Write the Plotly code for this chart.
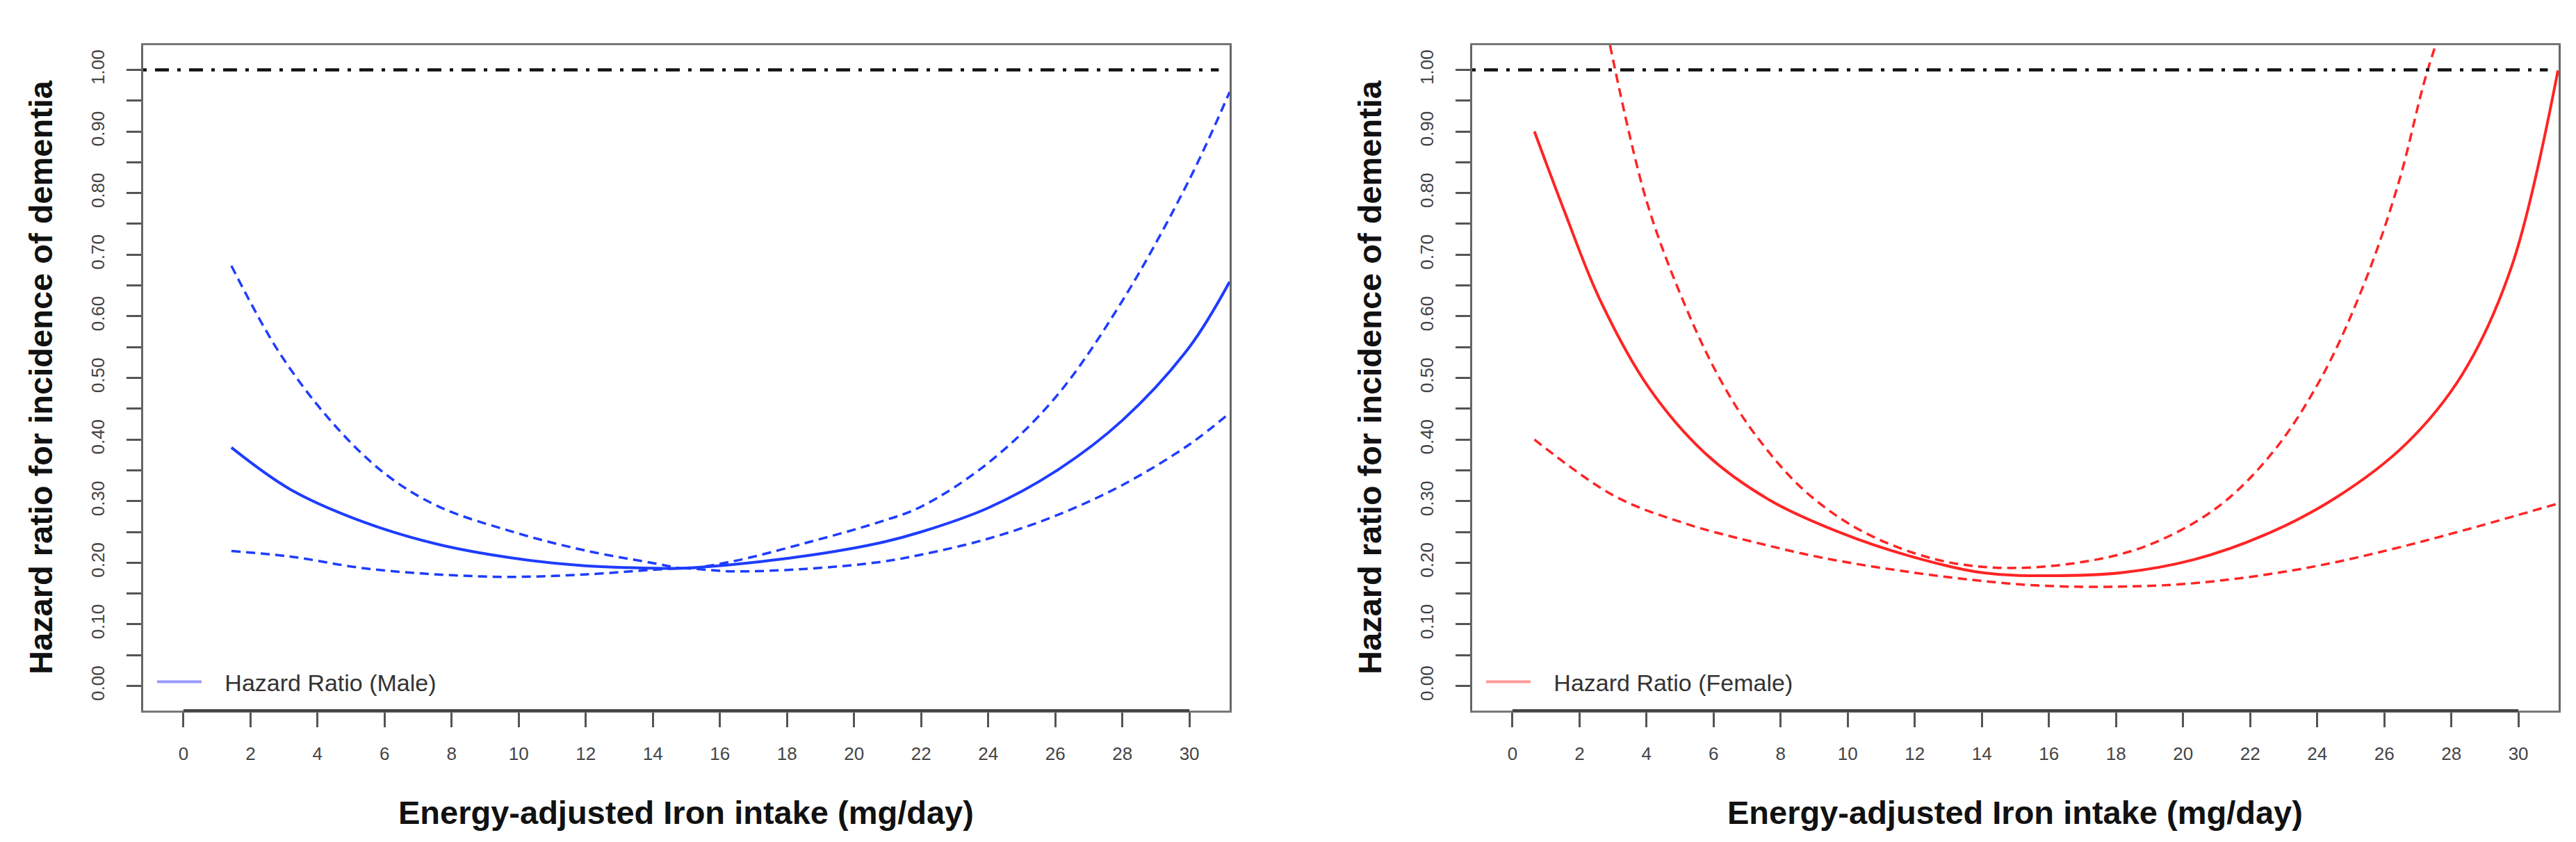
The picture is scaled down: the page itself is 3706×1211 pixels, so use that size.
import plotly.graph_objects as go

# Male panel
male_hr_x = [1.43, 3.19, 5.38, 7.58, 9.77, 11.97, 14.16, 14.9, 16.36, 18.55, 20.75, 22.0, 24.0, 26.0, 28.0, 30.0, 31.2]
male_hr_y = [0.387, 0.319, 0.266, 0.230, 0.208, 0.195, 0.191, 0.191, 0.197, 0.211, 0.232, 0.250, 0.289, 0.348, 0.431, 0.550, 0.656]
male_up_x = [1.43, 2.86, 4.43, 6.0, 7.58, 9.77, 11.97, 14.16, 14.9, 16.36, 18.55, 20.75, 22.0, 24.0, 26.0, 28.0, 30.0, 31.2]
male_up_y = [0.682, 0.541, 0.428, 0.345, 0.292, 0.251, 0.220, 0.198, 0.191, 0.202, 0.232, 0.266, 0.291, 0.362, 0.468, 0.625, 0.822, 0.964]
male_lo_x = [1.43, 3.19, 5.38, 7.58, 9.77, 11.97, 14.16, 14.9, 16.36, 18.55, 20.75, 22.0, 24.0, 26.0, 28.0, 30.0, 31.2]
male_lo_y = [0.219, 0.210, 0.191, 0.181, 0.177, 0.181, 0.189, 0.191, 0.186, 0.190, 0.201, 0.213, 0.239, 0.276, 0.326, 0.392, 0.443]

# Female panel
fem_hr_x = [0.655, 1.54, 2.60, 4.07, 5.76, 7.66, 9.77, 11.84, 13.99, 16.10, 18.19, 20.32, 22.43, 24.54, 26.65, 28.33, 29.80, 31.18]
fem_hr_y = [0.900, 0.772, 0.628, 0.484, 0.377, 0.302, 0.249, 0.211, 0.184, 0.179, 0.184, 0.205, 0.245, 0.305, 0.393, 0.506, 0.681, 0.999]
fem_up_x = [2.91, 4.0, 5.13, 6.18, 7.24, 8.71, 10.4, 12.51, 14.41, 16.73, 18.84, 20.95, 22.64, 24.11, 25.38, 26.43, 27.17, 27.53]
fem_up_y = [1.04, 0.787, 0.620, 0.499, 0.408, 0.317, 0.252, 0.207, 0.192, 0.199, 0.226, 0.287, 0.377, 0.499, 0.650, 0.817, 0.976, 1.04]
fem_lo_x = [0.655, 3.02, 5.13, 7.24, 9.34, 11.45, 13.56, 15.67, 17.78, 19.90, 22.0, 24.11, 26.23, 28.33, 31.18]
fem_lo_y = [0.400, 0.309, 0.264, 0.233, 0.207, 0.188, 0.173, 0.163, 0.161, 0.165, 0.177, 0.196, 0.222, 0.252, 0.296]

ref_hr = 1.0
x_ticks = [0, 2, 4, 6, 8, 10, 12, 14, 16, 18, 20, 22, 24, 26, 28, 30]
y_ticks = [0.00, 0.05, 0.10, 0.15, 0.20, 0.25, 0.30, 0.35, 0.40, 0.45, 0.50,
           0.55, 0.60, 0.65, 0.70, 0.75, 0.80, 0.85, 0.90, 0.95, 1.00]
y_tick_text = ['0.00', '', '0.10', '', '0.20', '', '0.30', '', '0.40', '', '0.50',
               '', '0.60', '', '0.70', '', '0.80', '', '0.90', '', '1.00']

W, H = 3706, 1211
BLUE = '#1e3cff'
RED = '#ff2424'
FONT = 'Arial, Liberation Sans, sans-serif'
GAP = '\u00a0\u00a0\u00a0'  # extra space between legend line and text, as in R

fig = go.Figure()

def add_panel(series, color, light, name, xa, ya, leg):
    (hx, hy), (ux, uy), (lx, ly) = series
    for cx, cy in [(ux, uy), (lx, ly)]:
        fig.add_trace(go.Scatter(x=cx, y=cy, mode='lines',
                                 line=dict(color=color, width=3.5, dash='13px,8px', shape='spline', smoothing=1.0),
                                 xaxis=xa, yaxis=ya, showlegend=False))
    fig.add_trace(go.Scatter(x=hx, y=hy, mode='lines',
                             line=dict(color=color, width=4, shape='spline', smoothing=1.0),
                             xaxis=xa, yaxis=ya, showlegend=False))
    # legend-only entry (lighter colour, as in the original)
    fig.add_trace(go.Scatter(x=[None], y=[None], mode='lines', line=dict(color=light, width=4),
                             name=GAP + name, xaxis=xa, yaxis=ya, legend=leg))

add_panel([(male_hr_x, male_hr_y), (male_up_x, male_up_y), (male_lo_x, male_lo_y)],
          BLUE, '#9a9aff', 'Hazard Ratio (Male)', 'x', 'y', 'legend')
add_panel([(fem_hr_x, fem_hr_y), (fem_up_x, fem_up_y), (fem_lo_x, fem_lo_y)],
          RED, '#ff9a9a', 'Hazard Ratio (Female)', 'x2', 'y2', 'legend2')

# reference line HR = 1
for xr, yr in [('x domain', 'y'), ('x2 domain', 'y2')]:
    fig.add_shape(type='line', xref=xr, yref=yr, x0=0, x1=0.99, y0=ref_hr, y1=ref_hr,
                  line=dict(color='#111111', width=4.5, dash='5px,12px,20px,12px'))

# R-style bottom axis line from first to last tick
for xr, yr in [('x', 'y domain'), ('x2', 'y2 domain')]:
    fig.add_shape(type='line', xref=xr, yref=yr, x0=x_ticks[0], x1=x_ticks[-1], y0=0, y1=0,
                  line=dict(color='#444444', width=4))

left_dom = [198 / W, 1761 / W]
right_dom = [2110 / W, 3673 / W]
y_dom = [1 - 1014 / H, 1 - 57 / H]

xa = dict(range=[-1.2, 31.2], tickvals=x_ticks, ticktext=[str(v) for v in x_ticks],
          ticks='outside', ticklen=21, tickwidth=3, tickcolor='#555555',
          showline=True, linecolor='#777777', linewidth=2.5, mirror=True,
          showgrid=False, zeroline=False, automargin=False, ticklabelstandoff=16,
          tickfont=dict(family=FONT, size=26, color='#444444'))
ya = dict(range=[-0.04, 1.04], tickvals=y_ticks, ticktext=y_tick_text, tickangle=-90,
          ticks='outside', ticklen=21, tickwidth=3, tickcolor='#555555',
          showline=True, linecolor='#666666', linewidth=2.5, mirror=True,
          showgrid=False, zeroline=False, automargin=False, ticklabelstandoff=22,
          tickfont=dict(family=FONT, size=26, color='#444444'))

fig.update_layout(
    width=W, height=H, autosize=False,
    margin=dict(l=0, r=0, t=0, b=0),
    plot_bgcolor='white', paper_bgcolor='white',
    xaxis=dict(xa, domain=left_dom, anchor='y'),
    yaxis=dict(ya, domain=y_dom, anchor='x'),
    xaxis2=dict(xa, domain=right_dom, anchor='y2'),
    yaxis2=dict(ya, domain=y_dom, anchor='x2'),
    legend=dict(x=213 / W, y=1 - 973 / H, xanchor='left', yanchor='middle',
                bgcolor='rgba(0,0,0,0)', itemwidth=64,
                font=dict(family=FONT, size=34, color='#333333')),
    legend2=dict(x=2125 / W, y=1 - 973 / H, xanchor='left', yanchor='middle',
                 bgcolor='rgba(0,0,0,0)', itemwidth=64,
                 font=dict(family=FONT, size=34, color='#333333')),
)

ytitle = 'Hazard ratio for incidence of dementia'
xtitle = 'Energy-adjusted Iron intake (mg/day)'
for xc in [50, 1962]:
    fig.add_annotation(text='<b>' + ytitle + '</b>', xref='paper', yref='paper',
                       x=xc / W, y=1 - 535 / H, textangle=-90, showarrow=False,
                       xanchor='center', yanchor='middle',
                       font=dict(family=FONT, size=47, color='#111111'))
for xc in [979, 2891]:
    fig.add_annotation(text='<b>' + xtitle + '</b>', xref='paper', yref='paper',
                       x=xc / W, y=1 - 1160 / H, showarrow=False,
                       xanchor='center', yanchor='middle',
                       font=dict(family=FONT, size=47, color='#111111'))

fig.write_html('out.html')
